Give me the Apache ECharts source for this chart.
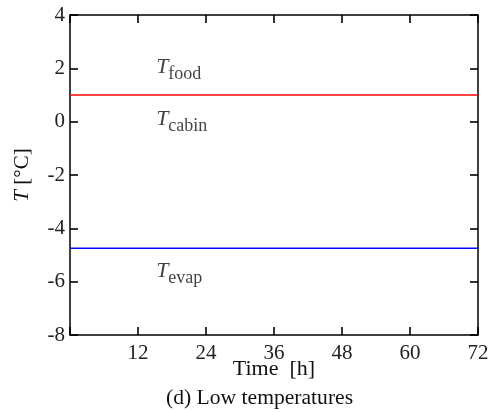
<!DOCTYPE html>
<html><head><meta charset="utf-8">
<script src="https://cdn.jsdelivr.net/npm/echarts@6/dist/echarts.min.js"></script>
<style>html,body{margin:0;padding:0;background:#fff}#c{width:491px;height:412px}</style>
</head><body><div id="c"></div>
<script>
const timeRange = [0, 72];
const foodCabin = [1, 1];
const evap = [-4.75, -4.75];
const xTicks = [0, 12, 24, 36, 48, 60, 72];
const yTicks = [-8, -6, -4, -2, 0, 2, 4];
const annNames = ['food', 'cabin', 'evap'];
const annX = [15.2, 15.2, 15.2];
const annY = [2.05, 0.1, -5.6];
const xName = 'Time  [h]';
const yName = '{t|T} [°C]';
const caption = '(d) Low temperatures';

const F = 'Liberation Serif';
const chart = echarts.init(document.getElementById('c'));
function axisLine() { return {show: true, onZero: false, lineStyle: {color: '#000', width: 1.5}}; }
function axisTick() { return {show: true, inside: true, length: 8, lineStyle: {color: '#000', width: 1.6}}; }
chart.setOption({
  animation: false,
  title: {
    text: caption, left: 161, top: 382,
    textStyle: {fontFamily: F, fontSize: 21.6, fontWeight: 'normal', color: '#111'}
  },
  grid: {left: 70, top: 15, right: 13, bottom: 77, containLabel: false, outerBoundsMode: 'none'},
  graphic: [
    {type: 'text', x: 274, y: 369, silent: true,
      style: {text: xName, fontFamily: F, fontSize: 22, fill: '#111', align: 'center', verticalAlign: 'middle'}},
    {type: 'text', x: 22, y: 175, rotation: Math.PI / 2, silent: true,
      style: {text: yName, fontFamily: F, fontSize: 21, fill: '#111', align: 'center', verticalAlign: 'middle',
        rich: {t: {fontFamily: F, fontSize: 21, fontStyle: 'italic', fill: '#111'}}}}
  ],
  xAxis: [
    {
      type: 'value', min: timeRange[0], max: timeRange[1], interval: 12,
      axisLine: axisLine(), axisTick: axisTick(), splitLine: {show: false},
      axisLabel: {fontFamily: F, fontSize: 21, color: '#222', margin: 8,
        formatter: v => (v === xTicks[0] ? '' : String(v))}
    },
    {
      type: 'value', position: 'top', min: timeRange[0], max: timeRange[1], interval: 12,
      axisLine: axisLine(), axisTick: axisTick(), splitLine: {show: false},
      axisLabel: {show: false}
    }
  ],
  yAxis: [
    {
      type: 'value', min: yTicks[0], max: yTicks[yTicks.length - 1], interval: 2,
      axisLine: axisLine(), axisTick: axisTick(), splitLine: {show: false},
      axisLabel: {fontFamily: F, fontSize: 21, color: '#222', margin: 5}
    },
    {
      type: 'value', position: 'right', min: yTicks[0], max: yTicks[yTicks.length - 1], interval: 2,
      axisLine: axisLine(), axisTick: axisTick(), splitLine: {show: false},
      axisLabel: {show: false}
    }
  ],
  series: [
    {type: 'line', data: timeRange.map((t, i) => [t, foodCabin[i]]), symbol: 'none',
      lineStyle: {color: '#ff0000', width: 1.5}},
    {type: 'line', data: timeRange.map((t, i) => [t, evap[i]]), symbol: 'none',
      lineStyle: {color: '#0000ff', width: 1.5}},
    {type: 'scatter', symbolSize: 0, silent: true,
      data: annNames.map((n, i) => ({value: [annX[i], annY[i]], name: n})),
      label: {show: true, position: 'right', distance: 0,
        formatter: p => '{t|T}{s|' + p.name + '}',
        rich: {
          t: {fontFamily: F, fontSize: 22, fontStyle: 'italic', color: '#111', verticalAlign: 'top', lineHeight: 22},
          s: {fontFamily: F, fontSize: 18, color: '#111', verticalAlign: 'top', lineHeight: 18, padding: [9, 0, 0, 0]}
        }}}
  ]
});
</script></body></html>
